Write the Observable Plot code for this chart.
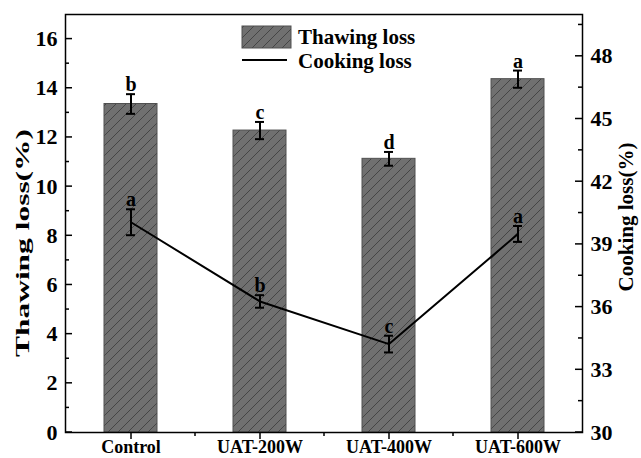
<!DOCTYPE html>
<html><head><meta charset="utf-8">
<script src="https://cdn.jsdelivr.net/npm/d3@7"></script>
<script src="https://cdn.jsdelivr.net/npm/@observablehq/plot@0.6"></script>
<style>body{margin:0;background:#fff} svg{font-family:"Liberation Serif","Times New Roman",serif;font-weight:bold}</style>
</head><body><div id="chart"></div>
<script>
const categories = ["Control", "UAT-200W", "UAT-400W", "UAT-600W"];
const thawing = [13.36, 12.28, 11.13, 14.37];
const thawingErr = [0.40, 0.35, 0.28, 0.35];
const thawingLetters = ["b", "c", "d", "a"];
const cooking = [40.06, 36.27, 34.23, 39.5];
const cookingErr = [0.62, 0.30, 0.40, 0.38];
const cookingLetters = ["a", "b", "c", "a"];
const leftTicks = [0, 2, 4, 6, 8, 10, 12, 14, 16];
const leftMinor = [1, 3, 5, 7, 9, 11, 13, 15];
const rightTicks = [30, 33, 36, 39, 42, 45, 48];
const rightMinor = [31.5, 34.5, 37.5, 40.5, 43.5, 46.5, 49.5];
const leftDomain = [0, 17];
const rightDomain = [30, 50];

const y2 = d3.scaleLinear(rightDomain, leftDomain);
const k = (leftDomain[1] - leftDomain[0]) / (rightDomain[1] - rightDomain[0]);
const rows = categories.map((c, i) => ({
  c, t: thawing[i], te: thawingErr[i], tl: thawingLetters[i],
  k: y2(cooking[i]), ke: cookingErr[i] * k, kl: cookingLetters[i]
}));

const font = "Liberation Serif, Times New Roman, serif";
const chart = Plot.plot({
  width: 641, height: 458,
  marginLeft: 65, marginRight: 59, marginTop: 14, marginBottom: 26,
  x: {domain: categories, padding: 0, label: null},
  y: {domain: leftDomain, label: null},
  style: {fontFamily: font, fontWeight: "bold", color: "#000", background: "#fff", overflow: "visible"},
  marks: [
    Plot.barY(rows, {x: "c", y: "t", fill: "#6f6f6f", stroke: "#505050", strokeWidth: 1, insetLeft: 38, insetRight: 38, className: "hbar"}),
    Plot.ruleX(rows, {x: "c", y1: d => d.t - d.te, y2: d => d.t + d.te, stroke: "#000", strokeWidth: 2}),
    Plot.tickY(rows, {x: "c", y: d => d.t + d.te, insetLeft: 60, insetRight: 60, stroke: "#000", strokeWidth: 2}),
    Plot.tickY(rows, {x: "c", y: d => d.t - d.te, insetLeft: 60, insetRight: 60, stroke: "#000", strokeWidth: 2}),
    Plot.text(rows, {x: "c", y: d => d.t + d.te, text: "tl", lineAnchor: "bottom", dy: -3, fontSize: 20, fontWeight: "bold", fill: "#000"}),
    Plot.line(rows, {x: "c", y: "k", stroke: "#000", strokeWidth: 2}),
    Plot.ruleX(rows, {x: "c", y1: d => d.k - d.ke, y2: d => d.k + d.ke, stroke: "#000", strokeWidth: 2}),
    Plot.tickY(rows, {x: "c", y: d => d.k + d.ke, insetLeft: 60, insetRight: 60, stroke: "#000", strokeWidth: 2}),
    Plot.tickY(rows, {x: "c", y: d => d.k - d.ke, insetLeft: 60, insetRight: 60, stroke: "#000", strokeWidth: 2}),
    Plot.text(rows, {x: "c", y: d => d.k + d.ke, text: "kl", lineAnchor: "bottom", dy: -3, fontSize: 20, fontWeight: "bold", fill: "#000"}),
    Plot.frame({stroke: "#000", strokeWidth: 1.5}),
    Plot.axisY(leftTicks, {anchor: "left", tickSize: 0, tickPadding: 8, fontSize: 22, fontWeight: "bold", label: null}),
    Plot.axisY(rightTicks, {anchor: "right", y: y2, tickFormat: d => d, tickSize: 0, tickPadding: 8, fontSize: 22, fontWeight: "bold", label: null}),
    Plot.axisX({anchor: "bottom", tickSize: 7, tickPadding: 1, fontSize: 18, fontWeight: "bold", label: null, strokeWidth: 1.5})
  ]
});
document.getElementById("chart").appendChild(chart);

const svg = d3.select(chart);
const ys = chart.scale("y"), xs = chart.scale("x");
const X0 = 65, X1 = 641 - 59, Y0 = 458 - 26;

// hatch pattern
const defs = svg.insert("defs", ":first-child");
const pat = defs.append("pattern").attr("id", "hatch").attr("patternUnits", "userSpaceOnUse").attr("width", 10).attr("height", 10);
pat.append("rect").attr("width", 10).attr("height", 10).attr("fill", "#707070");
pat.append("path").attr("d", "M-1,1L1,-1M0,10L10,0M9,11L11,9").attr("stroke", "#3a3a3a").attr("stroke-width", 0.8);
svg.selectAll(".hbar rect").attr("fill", "url(#hatch)");

// inward y ticks
const g = svg.append("g").attr("stroke", "#000").attr("stroke-width", 1.5);
leftTicks.forEach(v => g.append("line").attr("x1", X0).attr("x2", X0 + 7).attr("y1", ys.apply(v)).attr("y2", ys.apply(v)));
leftMinor.forEach(v => g.append("line").attr("x1", X0).attr("x2", X0 + 4).attr("y1", ys.apply(v)).attr("y2", ys.apply(v)));
rightTicks.forEach(v => g.append("line").attr("x1", X1).attr("x2", X1 - 7).attr("y1", ys.apply(y2(v))).attr("y2", ys.apply(y2(v))));
rightMinor.forEach(v => g.append("line").attr("x1", X1).attr("x2", X1 - 4).attr("y1", ys.apply(y2(v))).attr("y2", ys.apply(y2(v))));
// minor x ticks at band boundaries
categories.slice(1).forEach(c => g.append("line").attr("x1", xs.apply(c)).attr("x2", xs.apply(c)).attr("y1", Y0).attr("y2", Y0 + 4));

// axis titles
svg.append("text").attr("transform", "translate(29,243) rotate(-90)").attr("text-anchor", "middle")
  .attr("font-size", 19).attr("font-weight", "bold").attr("textLength", 228).attr("lengthAdjust", "spacingAndGlyphs")
  .text("Thawing loss(%)");
svg.append("text").attr("transform", "translate(633,217) rotate(-90)").attr("text-anchor", "middle")
  .attr("font-size", 21).attr("font-weight", "bold").text("Cooking loss(%)");

// legend
const lg = svg.append("g").attr("text-anchor", "start");
lg.append("rect").attr("x", 242).attr("y", 26).attr("width", 49).attr("height", 22).attr("fill", "url(#hatch)").attr("stroke", "#505050");
lg.append("line").attr("x1", 242).attr("x2", 287).attr("y1", 60).attr("y2", 60).attr("stroke", "#000").attr("stroke-width", 2);
lg.append("text").attr("x", 298).attr("y", 44).attr("font-size", 21).attr("font-weight", "bold").text("Thawing loss");
lg.append("text").attr("x", 298).attr("y", 68).attr("font-size", 21).attr("font-weight", "bold").text("Cooking loss");
</script>
</body></html>
